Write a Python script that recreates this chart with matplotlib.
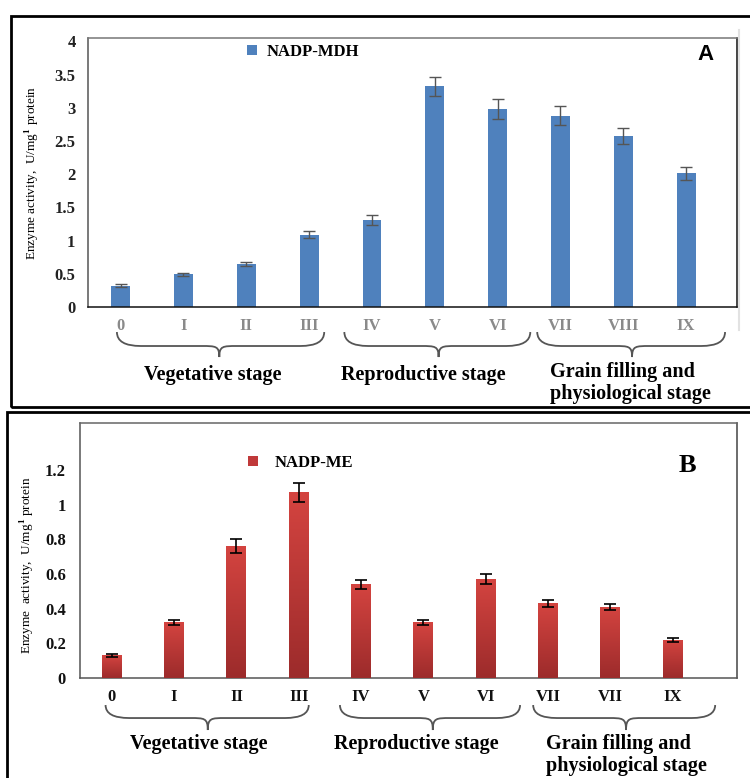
import numpy as np
import matplotlib
matplotlib.use('Agg')
from matplotlib import pyplot as plt
from matplotlib.path import Path
from matplotlib.patches import PathPatch, Rectangle
from matplotlib.lines import Line2D
from matplotlib.colors import LinearSegmentedColormap
import matplotlib.transforms as mtransforms

plt.rcParams['font.family'] = ['Liberation Serif', 'DejaVu Serif']
plt.rcParams['mathtext.fontset'] = 'custom'
plt.rcParams['mathtext.rm'] = 'Liberation Serif'
plt.rcParams['mathtext.bf'] = 'Liberation Serif:bold'

# growth stages and enzyme activity (U/mg protein)
stages_a = ['0', 'I', 'II', 'III', 'IV', 'V', 'VI', 'VII', 'VIII', 'IX']
mdh = [0.32, 0.49, 0.64, 1.09, 1.31, 3.32, 2.98, 2.88, 2.57, 2.01]
mdh_err = [0.02, 0.02, 0.03, 0.05, 0.07, 0.15, 0.15, 0.14, 0.12, 0.10]
yticks_a = [0, 0.5, 1, 1.5, 2, 2.5, 3, 3.5, 4]
ylabels_a = ['0', '0.5', '1', '1.5', '2', '2.5', '3', '3.5', '4']

stages_b = ['0', 'I', 'II', 'III', 'IV', 'V', 'VI', 'VII', 'VII', 'IX']
me = [0.13, 0.32, 0.76, 1.07, 0.54, 0.32, 0.57, 0.43, 0.41, 0.22]
me_err = [0.01, 0.016, 0.04, 0.056, 0.027, 0.015, 0.029, 0.021, 0.017, 0.012]
yticks_b = [0, 0.2, 0.4, 0.6, 0.8, 1.0, 1.2]
ylabels_b = ['0', '0.2', '0.4', '0.6', '0.8', '1', '1.2']

groups = ['Vegetative stage', 'Reproductive stage', 'Grain filling and\nphysiological stage']

W, H = 750, 778
GFS = 14.5   # group label size
TFS = 12     # tick label size


def px_axes(left, top, right, bottom):
    # pixel box -> figure fraction
    return [left / W, 1 - bottom / H, (right - left) / W, (bottom - top) / H]


def brace(ax, x0, x1, xtip, ytop, ymid, ytip, color='#555555'):
    tr = mtransforms.blended_transform_factory(ax.transData, ax.transAxes)
    de, dt = 0.38, 0.28
    verts = [(x0, ytop), (x0, ymid), (x0 + de, ymid),
             (xtip - dt, ymid),
             (xtip - dt * 0.2, ymid), (xtip, ymid), (xtip, ytip),
             (xtip, ymid), (xtip + dt * 0.2, ymid), (xtip + dt, ymid),
             (x1 - de, ymid),
             (x1, ymid), (x1, ytop)]
    codes = [Path.MOVETO, Path.CURVE3, Path.CURVE3,
             Path.LINETO,
             Path.CURVE4, Path.CURVE4, Path.CURVE4,
             Path.CURVE4, Path.CURVE4, Path.CURVE4,
             Path.LINETO,
             Path.CURVE3, Path.CURVE3]
    ax.add_patch(PathPatch(Path(verts, codes), fc='none', ec=color, lw=1.3,
                           transform=tr, clip_on=False))


fig = plt.figure(figsize=(7.5, 7.78), dpi=100)

# outer frames of the two panels
fig.add_artist(Rectangle((10.7 / W, 1 - 407 / H), 760 / W, (407 - 15.7) / H,
                         transform=fig.transFigure, fc='none', ec='black', lw=2))
fig.add_artist(Rectangle((7 / W, 1 - 800 / H), 760 / W, (800 - 412) / H,
                         transform=fig.transFigure, fc='none', ec='black', lw=2))
fig.add_artist(Line2D([739 / W, 739 / W], [1 - 330 / H, 1 - 30 / H],
                      transform=fig.transFigure, color='#e2e2e2', lw=1.5))

# ---------------- panel A: NADP-MDH ----------------
axa = fig.add_axes(px_axes(88, 38, 737, 307))
xa = np.arange(len(stages_a))
axa.bar(xa, mdh, width=0.3, color='#4f81bd', label='NADP-MDH', zorder=2)
axa.errorbar(xa, mdh, yerr=mdh_err, fmt='none', ecolor='#555555',
             elinewidth=1, capsize=4, capthick=1, zorder=3)
axa.set_xlim(-0.52, 9.81)
axa.set_ylim(0, 4.05)
axa.set_yticks(yticks_a)
axa.set_yticklabels(ylabels_a, fontsize=TFS, fontweight='bold', color='#222222')
axa.set_xticks(xa)
axa.set_xticklabels(stages_a, fontsize=TFS, fontweight='bold', color='#8a8a8a')
axa.tick_params(length=0, axis='x', pad=8)
axa.tick_params(length=0, axis='y', pad=9)
for side, c in [('top', '#777777'), ('left', '#555555'), ('right', '#111111'), ('bottom', '#111111')]:
    axa.spines[side].set_color(c)
    axa.spines[side].set_linewidth(1.1)
axa.legend(loc='upper left', bbox_to_anchor=(0.245, 0.978), frameon=False,
           handlelength=0.6, handleheight=0.6, handletextpad=0.6,
           borderpad=0, borderaxespad=0,
           prop={'weight': 'bold', 'size': 12})
axa.text(0.951, 0.94, 'A', transform=axa.transAxes, ha='center', va='center',
         fontsize=16, fontweight='bold', family='Liberation Sans')

brace(axa, -0.06, 3.24, 1.57, -0.093, -0.145, -0.186)
brace(axa, 3.56, 6.52, 5.06, -0.093, -0.145, -0.186)
brace(axa, 6.63, 9.62, 8.14, -0.093, -0.145, -0.186)
axa.text(1.46, -0.253, groups[0], transform=axa.get_xaxis_transform(),
         ha='center', va='center', fontsize=GFS, fontweight='bold')
axa.text(4.81, -0.253, groups[1], transform=axa.get_xaxis_transform(),
         ha='center', va='center', fontsize=GFS, fontweight='bold')
axa.text(6.84, -0.283, groups[2], transform=axa.get_xaxis_transform(),
         ha='left', va='center', fontsize=GFS, fontweight='bold', linespacing=1.15)

fig.text(33 / W, 1 - 173 / H, r'Enzyme activity,  U/mg$^{\mathbf{1}}$ protein',
         rotation=90, ha='center', va='center', fontsize=9.5)

# ---------------- panel B: NADP-ME ----------------
axb = fig.add_axes(px_axes(80, 423, 737, 678))
xb = np.arange(len(stages_b))
bars = axb.bar(xb, me, width=0.32, color='#c0393a', label='NADP-ME', zorder=2)
axb.errorbar(xb, me, yerr=me_err, fmt='none', ecolor='black',
             elinewidth=1.2, capsize=4, capthick=1.2, zorder=4)

# vertical red gradient inside each bar
red_grad = LinearSegmentedColormap.from_list('redgrad', ['#9c2b2b', '#d44440'])
grad = np.linspace(0, 1, 256).reshape(-1, 1)
for b in bars:
    x0, y0 = b.get_x(), b.get_y()
    im = axb.imshow(grad, cmap=red_grad, origin='lower', aspect='auto',
                    extent=[x0, x0 + b.get_width(), y0, y0 + b.get_height()],
                    zorder=3)
    im.set_clip_path(b)
axb.set_xlim(-0.51, 10.03)
axb.set_ylim(0, 1.47)

axb.set_yticks(yticks_b)
axb.set_yticklabels(ylabels_b, fontsize=TFS, fontweight='bold', color='#111111')
axb.set_xticks(xb)
axb.set_xticklabels(stages_b, fontsize=TFS, fontweight='bold', color='#111111')
axb.tick_params(length=0, axis='x', pad=8)
axb.tick_params(length=0, axis='y', pad=10)
for side, c in [('top', '#666666'), ('left', '#555555'), ('right', '#444444'), ('bottom', '#555555')]:
    axb.spines[side].set_color(c)
    axb.spines[side].set_linewidth(1.1)
axb.legend(loc='upper left', bbox_to_anchor=(0.256, 0.875), frameon=False,
           handlelength=0.6, handleheight=0.6, handletextpad=1.0,
           borderpad=0, borderaxespad=0,
           prop={'weight': 'bold', 'size': 12})
axb.text(0.925, 0.835, 'B', transform=axb.transAxes, ha='center', va='center',
         fontsize=19, fontweight='bold')

brace(axb, -0.10, 3.16, 1.54, -0.106, -0.157, -0.204)
brace(axb, 3.66, 6.55, 5.15, -0.106, -0.157, -0.204)
brace(axb, 6.76, 9.68, 8.25, -0.106, -0.157, -0.204)
axb.text(1.40, -0.259, groups[0], transform=axb.get_xaxis_transform(),
         ha='center', va='center', fontsize=GFS, fontweight='bold')
axb.text(4.88, -0.259, groups[1], transform=axb.get_xaxis_transform(),
         ha='center', va='center', fontsize=GFS, fontweight='bold')
axb.text(6.97, -0.302, groups[2], transform=axb.get_xaxis_transform(),
         ha='left', va='center', fontsize=GFS, fontweight='bold', linespacing=1.15)

fig.text(28 / W, 1 - 565 / H, r'Enzyme  activity,  U/mg$^{\mathbf{1}}$ protein',
         rotation=90, ha='center', va='center', fontsize=9.5)

fig.savefig('out.png', dpi=100)
